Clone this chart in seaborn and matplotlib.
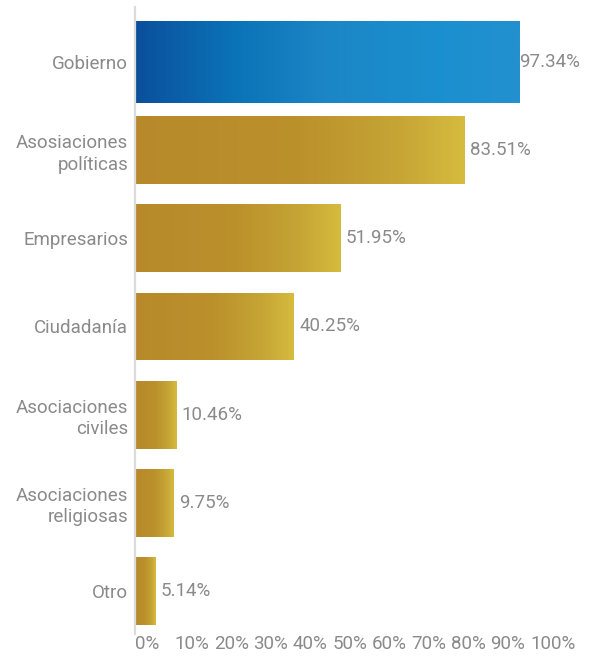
import numpy as np
import pandas as pd
import matplotlib
matplotlib.use("Agg")
import matplotlib.pyplot as plt
from matplotlib.colors import LinearSegmentedColormap
import seaborn as sns

# Data
categories = [
    "Gobierno",
    "Asosiaciones\npolíticas",
    "Empresarios",
    "Ciudadanía",
    "Asociaciones\nciviles",
    "Asociaciones\nreligiosas",
    "Otro",
]
values = [97.34, 83.51, 51.95, 40.25, 10.46, 9.75, 5.14]
x_ticks = [0, 10, 20, 30, 40, 50, 60, 70, 80, 90, 100]
x_tick_labels = [f"{t}%" for t in x_ticks]

df = pd.DataFrame({"categoria": categories, "valor": values})

sns.set_theme(style="white")
plt.rcParams["font.family"] = ["Roboto", "DejaVu Sans"]

TEXT = "#8a8a8a"
FS = 13.5
blue_cmap = LinearSegmentedColormap.from_list(
    "azul", [(0.0, "#0b4f9c"), (0.25, "#0a72b7"), (0.5, "#1c86c6"),
             (0.78, "#1a8fcf"), (1.0, "#2391d0")])
gold_cmap = LinearSegmentedColormap.from_list(
    "oro", [(0.0, "#b7892a"), (0.5, "#bb912c"), (0.8, "#c6a535"), (1.0, "#d5bb3e")])

fig = plt.figure(figsize=(5.97, 6.57), dpi=100)
ax = fig.add_axes([135 / 597, 23 / 657, 395 / 597, 627 / 657])

sns.barplot(data=df, x="valor", y="categoria", orient="h", width=0.77,
            color="#b7892a", ax=ax, errorbar=None)

# Highlighted first bar is drawn a little taller
bars = list(ax.patches)
bars[0].set_y(-0.46)
bars[0].set_height(0.92)

grad = np.linspace(0, 1, 256).reshape(1, -1)
for i, patch in enumerate(bars):
    x0, y0 = patch.get_x(), patch.get_y()
    w, h = patch.get_width(), patch.get_height()
    cmap = blue_cmap if i == 0 else gold_cmap
    im = ax.imshow(grad, extent=[x0, x0 + w, y0 + h, y0], cmap=cmap,
                   aspect="auto", interpolation="bilinear", zorder=2)
    im.set_clip_path(patch)
    patch.set_facecolor("none")
    patch.set_edgecolor("none")

# Value labels
for i, v in enumerate(values):
    off = 0 if i == 0 else 4
    ax.annotate(f"{v:.2f}%", xy=(v, i), xytext=(off, 0), textcoords="offset points",
                ha="left", va="center", fontsize=FS, color=TEXT)

ax.set_xlim(0, 100)
ax.set_ylim(6.488, -0.624)
ax.set_xlabel("")
ax.set_ylabel("")

ax.set_xticks(x_ticks)
ax.set_xticklabels(x_tick_labels, ha="left", fontsize=FS, color=TEXT)
ax.set_yticks(range(len(categories)))
ax.set_yticklabels(categories, fontsize=FS, color=TEXT, linespacing=1.25)
for lbl in ax.get_yticklabels():
    lbl.set_multialignment("right")
ax.tick_params(axis="x", length=0, pad=1)
ax.tick_params(axis="y", length=0, pad=5)

for side in ["top", "right", "bottom"]:
    ax.spines[side].set_visible(False)
ax.spines["left"].set_color("#dcdcdc")
ax.spines["left"].set_linewidth(1.6)
ax.grid(False)

fig.savefig("out.png", dpi=100)
